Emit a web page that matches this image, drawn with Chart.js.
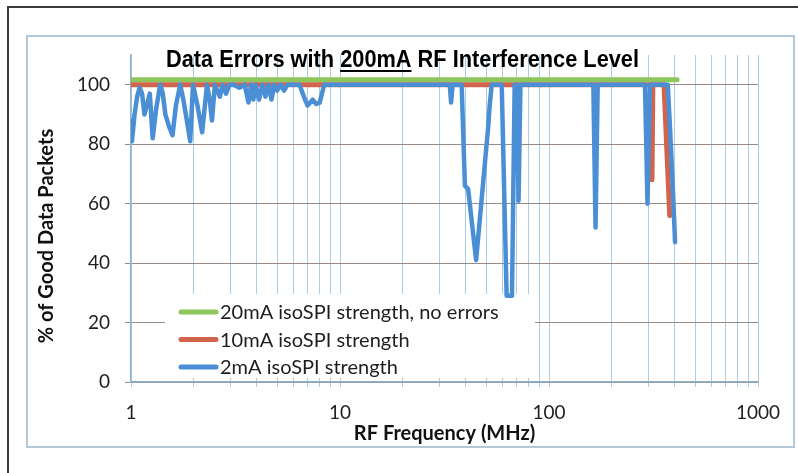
<!DOCTYPE html>
<html><head><meta charset="utf-8">
<script src="https://cdn.jsdelivr.net/npm/chart.js@4/dist/chart.umd.min.js"></script>
<style>html,body{margin:0;padding:0;background:#fff}#wrap{width:798px;height:473px;position:relative}</style>
</head><body><div id="wrap"><canvas id="c" width="798" height="473"></canvas></div>
<script>
// ---- text ----
const titleParts = ['Data Errors with ', '200mA', ' RF Interference Level'];
const xAxisTitle = 'RF Frequency (MHz)';
const yAxisTitle = '% of Good Data Packets';
const seriesNames = ['20mA isoSPI strength, no errors', '10mA isoSPI strength', '2mA isoSPI strength'];
const xTickLabels = [1, 10, 100, 1000];
const yTickLabels = [0, 20, 40, 60, 80, 100];

// ---- data (frequency MHz, % good packets) ----
const green20Freq = [1, 410];
const green20Vals = [101.7, 101.7];

const red10Freq = [1, 308, 311, 314, 355, 378, 392];
const red10Vals = [100, 100, 68, 100, 100, 56, 57];

const blue2Freq = [1.00,1.01,1.04,1.07,1.10,1.13,1.16,1.19,1.23,1.27,1.32,1.38,1.42,1.46,1.52,1.58,1.64,1.72,1.78,1.85,
  1.92,1.98,2.08,2.19,2.31,2.38,2.44,2.52,2.66,2.75,2.85,2.95,3.1,3.3,3.5,3.65,3.75,3.85,3.95,4.1,
  4.25,4.4,4.55,4.7,4.85,5.0,5.2,5.4,5.6,6.4,6.8,7.0,7.4,7.7,8.0,8.4,
  33.5,34.0,34.6,38.2,39.6,41.0,44.8,51.2,52.0,53.2,59.4,62.7,66.5,68.5,70.0,71.5,73.0,
  163,167,171,288,296,304,370,379,392,401];
const blue2Vals = [88,81,90,96,99,97,90,93,97,82,92,100,97,90,86,83,93,100,95,88,
  81,100,93,84,100,95,88,100,96,100,97,100,100,99,100,94,100,95,100,95,
  100,96,100,95,100,98,100,98,100,100,95,93,95,93.5,94,100,
  100,94,100,100,66,65,41,86,93,100,100,29,29,100,100,61,100,
  100,52,100,100,60,100,100,86,64,47];

const colors = ['#8dc65a', '#d2634c', '#4a8fd6'];

function pts(xs, ys) { return xs.map((x, i) => ({x: x, y: ys[i]})); }

const decorPlugin = {
  id: 'decor',
  beforeDraw(chart) {
    const ctx = chart.ctx;
    ctx.save();
    ctx.fillStyle = '#fff';
    ctx.fillRect(0, 0, chart.width, chart.height);
    ctx.strokeStyle = '#3c3c3c';
    ctx.lineWidth = 2;
    ctx.beginPath();
    ctx.moveTo(8, 473); ctx.lineTo(8, 7); ctx.lineTo(798, 7);
    ctx.stroke();
    ctx.strokeStyle = '#b3c8d8';
    ctx.lineWidth = 2;
    ctx.strokeRect(27, 36, 767, 411);
    ctx.restore();
  },
  beforeDatasetsDraw(chart) {
    const ctx = chart.ctx;
    ctx.save();
    ctx.fillStyle = '#fff';
    ctx.fillRect(165, 294, 370, 84);
    ctx.restore();
  },
  afterDatasetsDraw(chart) {
    const ctx = chart.ctx;
    ctx.save();
    const rows = [312, 339.5, 367];
    chart.data.datasets.forEach((ds, i) => {
      ctx.strokeStyle = ds.borderColor;
      ctx.lineWidth = 5;
      ctx.lineCap = 'round';
      ctx.beginPath();
      ctx.moveTo(181, rows[i]); ctx.lineTo(216, rows[i]);
      ctx.stroke();
      ctx.fillStyle = '#1e1e1e';
      ctx.font = '20px Lato, "Liberation Sans", sans-serif';
      ctx.textAlign = 'left';
      ctx.textBaseline = 'middle';
      ctx.fillText(ds.label, 220, rows[i] + 1);
    });
    ctx.font = 'bold 23px "Liberation Sans Narrow", "Liberation Sans", sans-serif';
    ctx.fillStyle = '#000';
    ctx.textBaseline = 'alphabetic';
    ctx.textAlign = 'left';
    const full = titleParts.join('');
    const w = ctx.measureText(full).width;
    const target = 473, x0 = 166, base = 67;
    const sx = target / w;
    ctx.translate(x0, base);
    ctx.scale(sx, 1);
    let cx = 0;
    titleParts.forEach((p, i) => {
      const pw = ctx.measureText(p).width;
      ctx.fillText(p, cx, 0);
      if (i === 1) ctx.fillRect(cx, 3, pw, 2);
      cx += pw;
    });
    ctx.restore();
    ctx.save();
    ctx.fillStyle = '#111';
    ctx.font = 'bold 20px Lato, "Liberation Sans", sans-serif';
    ctx.textAlign = 'center';
    ctx.textBaseline = 'middle';
    const ca = chart.chartArea;
    ctx.fillText(xAxisTitle, (ca.left + ca.right) / 2, 434);
    ctx.translate(47, 236);
    ctx.rotate(-Math.PI / 2);
    ctx.fillText(yAxisTitle, 0, 0);
    ctx.restore();
  }
};

new Chart(document.getElementById('c'), {
  type: 'line',
  data: {
    datasets: [
      {label: seriesNames[0], data: pts(green20Freq, green20Vals), borderColor: colors[0], borderWidth: 5, order: 3},
      {label: seriesNames[1], data: pts(red10Freq, red10Vals), borderColor: colors[1], borderWidth: 5, order: 2},
      {label: seriesNames[2], data: pts(blue2Freq, blue2Vals), borderColor: colors[2], borderWidth: 4.5, order: 1}
    ]
  },
  options: {
    responsive: false,
    animation: false,
    events: [],
    elements: {point: {radius: 0}, line: {tension: 0, borderJoinStyle: 'round', borderCapStyle: 'round', fill: false}},
    layout: {padding: {left: 0, right: 40, top: 55, bottom: 51}},
    plugins: {legend: {display: false}, title: {display: false}, tooltip: {enabled: false}},
    scales: {
      x: {
        type: 'logarithmic',
        min: 1, max: 1000,
        afterBuildTicks(axis) {
          const t = [];
          for (let k = 0; k < xTickLabels.length - 1; k++) {
            for (let m = 1; m < 10; m++) t.push({value: m * xTickLabels[k]});
          }
          t.push({value: xTickLabels[xTickLabels.length - 1]});
          axis.ticks = t;
        },
        afterFit(s) { s.height = 40; },
        ticks: {
          autoSkip: false, maxRotation: 0, minRotation: 0, padding: 14,
          color: '#1e1e1e', font: {family: 'Lato, "Liberation Sans", sans-serif', size: 19},
          callback(v) { return xTickLabels.includes(v) ? String(v) : ''; }
        },
        grid: {color: '#a9cde6', lineWidth: 1, tickLength: 5, drawTicks: true},
        border: {color: '#8fb3cc', width: 1.5}
      },
      y: {
        min: 0, max: 110,
        afterBuildTicks(axis) { axis.ticks = yTickLabels.map(v => ({value: v})); },
        afterFit(s) { s.width = 131; },
        ticks: {
          padding: 15, color: '#1e1e1e',
          font: {family: 'Lato, "Liberation Sans", sans-serif', size: 19}
        },
        grid: {color: '#968b86', lineWidth: 1, tickLength: 6},
        border: {color: '#8fb3cc', width: 1.5}
      }
    }
  },
  plugins: [decorPlugin]
});
</script></body></html>
